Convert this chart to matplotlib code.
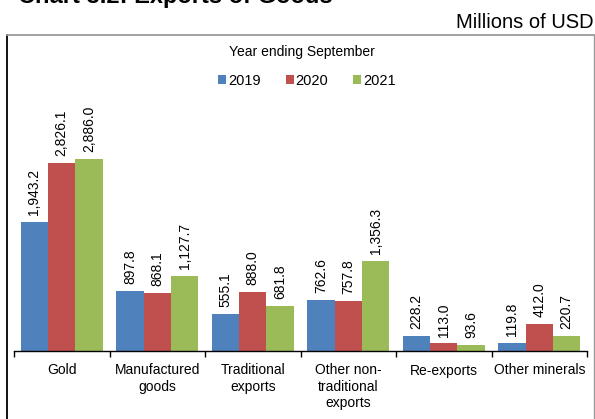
import matplotlib
matplotlib.use("Agg")
import matplotlib.pyplot as plt
import numpy as np
from matplotlib.patches import Patch
from matplotlib.lines import Line2D

plt.rcParams['font.family'] = ['Liberation Sans', 'DejaVu Sans']

categories = ["Gold", "Manufactured\ngoods", "Traditional\nexports",
              "Other non-\ntraditional\nexports", "Re-exports", "Other minerals"]
years = ["2019", "2020", "2021"]
values_2019 = [1943.2, 897.8, 555.1, 762.6, 228.2, 119.8]
values_2020 = [2826.1, 868.1, 888.0, 757.8, 113.0, 412.0]
values_2021 = [2886.0, 1127.7, 681.8, 1356.3, 93.6, 220.7]
series = [values_2019, values_2020, values_2021]
colors = ["#4F81BD", "#C0504D", "#9BBB59"]

W, H = 595, 419
fig = plt.figure(figsize=(W / 100, H / 100), dpi=100)

# plot area in pixel terms
left, right, bottom, top = 14, 587, 351, 91.5
ax = fig.add_axes([left / W, 1 - bottom / H, (right - left) / W, (bottom - top) / H])

x = np.arange(len(categories))
bw = 0.286
for i, (vals, c) in enumerate(zip(series, colors)):
    pos = x + (i - 1) * bw
    bars = ax.bar(pos, vals, width=bw, color=c, edgecolor="none", label=years[i])
    for xp, v in zip(pos, vals):
        ax.annotate(f"{v:,.1f}", (xp, v), xytext=(0, 5), textcoords="offset points",
                    rotation=90, ha="center", va="bottom", fontsize=10)

ax.set_xlim(-0.5, len(categories) - 0.5)
ax.set_ylim(0, 3900)
for s in ["top", "right", "left"]:
    ax.spines[s].set_visible(False)
ax.spines["bottom"].set_color("black")
ax.spines["bottom"].set_linewidth(1.0)
ax.set_yticks([])

# ticks at category boundaries, labels centred
ax.set_xticks(np.arange(len(categories) + 1) - 0.5)
ax.set_xticklabels([])
ax.set_xticks(x, minor=True)
ax.set_xticklabels(categories, minor=True, fontsize=10, linespacing=1.2, va="top")
ax.tick_params(axis="x", which="major", direction="out", length=4, width=1, color="black")
ax.tick_params(axis="x", which="minor", length=0, pad=9)

# legend
handles = [Patch(facecolor=c, edgecolor="none") for c in colors]
fig.legend(handles, years, loc="center", bbox_to_anchor=(307 / W, 1 - 81 / H),
           ncol=3, frameon=False, fontsize=10.5, handlelength=0.55, handleheight=0.55,
           handletextpad=0.15, columnspacing=1.7, borderpad=0)
fig.text(302 / W, 1 - 52 / H, "Year ending September", ha="center", va="center", fontsize=10)

# titles
fig.text(18 / W, 1 - 3 / H, "Chart 3.2: Exports of Goods", ha="left", va="baseline",
         fontsize=17, fontweight="bold")
fig.text(594 / W, 1 - 22 / H, "Millions of USD", ha="right", va="center", fontsize=14.5)

# outer frame
fig.add_artist(Line2D([7 / W, 7 / W], [0, 1 - 35.5 / H], transform=fig.transFigure,
                      color="black", lw=1.3))
fig.add_artist(Line2D([7 / W, 594 / W], [1 - 35.5 / H, 1 - 35.5 / H], transform=fig.transFigure,
                      color="#9a9a9a", lw=1.3))
fig.add_artist(Line2D([593.5 / W, 593.5 / W], [0, 1 - 35.5 / H], transform=fig.transFigure,
                      color="#9a9a9a", lw=1.0))

fig.savefig("out.png", dpi=100)
